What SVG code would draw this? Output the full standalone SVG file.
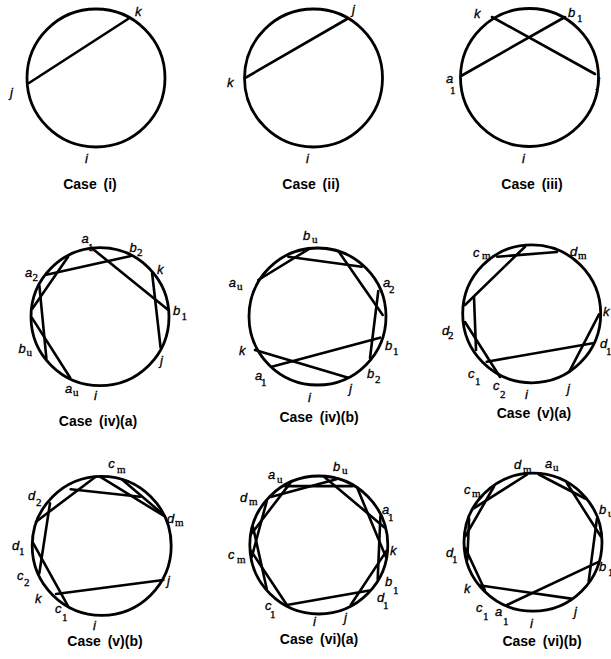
<svg xmlns="http://www.w3.org/2000/svg" width="611" height="659" viewBox="0 0 611 659">
<style>
.rim{fill:none;stroke:#000;stroke-width:2.8}
.ch line{stroke:#000;stroke-width:2.6;stroke-linecap:round}
.lb{font-family:"Liberation Sans",Arial,sans-serif;font-style:italic;font-size:13px;fill:#000;stroke:#000;stroke-width:0.3}
.sb{font-family:"Liberation Serif","Times New Roman",serif;font-style:normal;font-size:11px}
.cap{font-family:"Liberation Sans",Arial,sans-serif;font-weight:bold;font-size:14px;text-anchor:middle;word-spacing:3px;fill:#000}
</style>
<rect width="611" height="659" fill="#fff"/>

<g id="case-i">
<circle class="rim" cx="96" cy="78" r="69"/>
<g class="ch"><line x1="29" y1="83" x2="128" y2="19"/></g>
<text class="lb" x="135" y="16">k</text>
<text class="lb" x="10" y="97">j</text>
<text class="lb" x="85" y="163">i</text>
<text class="cap" x="90" y="189">Case (i)</text>
</g>

<g id="case-ii">
<circle class="rim" cx="313.5" cy="78" r="69"/>
<g class="ch"><line x1="245" y1="78" x2="347" y2="19"/></g>
<text class="lb" x="352" y="14">j</text>
<text class="lb" x="227" y="87">k</text>
<text class="lb" x="306" y="163">i</text>
<text class="cap" x="311" y="189">Case (ii)</text>
</g>

<g id="case-iii">
<circle class="rim" cx="529.5" cy="77.5" r="69"/>
<g class="ch"><line x1="492" y1="17" x2="595" y2="74"/><line x1="461" y1="76" x2="565" y2="17"/></g>
<text class="lb" x="474" y="18">k</text>
<text class="lb" x="568" y="17">b<tspan class="sb" x="577" y="22">1</tspan></text>
<text class="lb" x="446" y="83">a<tspan class="sb" x="450" y="94">1</tspan></text>
<text class="lb" x="597" y="87">j</text>
<text class="lb" x="522" y="163">i</text>
<text class="cap" x="532" y="189">Case (iii)</text>
</g>

<g id="case-iv-a">
<circle class="rim" cx="100" cy="316.7" r="69"/>
<g class="ch">
<line x1="92.9" y1="249" x2="167.7" y2="309.6"/>
<line x1="46.4" y1="274.8" x2="130.9" y2="256.1"/>
<line x1="152.1" y1="273" x2="160.6" y2="347.6"/>
<line x1="68.1" y1="256.7" x2="32.5" y2="308.4"/>
<line x1="39.4" y1="285.8" x2="46.4" y2="358.6"/>
<line x1="32" y1="317.9" x2="70.2" y2="377.8"/>
</g>
<text class="lb" x="81.5" y="243">a<tspan class="sb" x="88" y="251">1</tspan></text>
<text class="lb" x="129.5" y="252">b<tspan class="sb" x="137" y="256">2</tspan></text>
<text class="lb" x="157" y="274">k</text>
<text class="lb" x="173" y="315">b<tspan class="sb" x="181.5" y="320">1</tspan></text>
<text class="lb" x="160" y="365">j</text>
<text class="lb" x="18.5" y="353">b<tspan class="sb" x="26.5" y="356">u</tspan></text>
<text class="lb" x="65" y="393">a<tspan class="sb" x="73" y="396">u</tspan></text>
<text class="lb" x="94" y="400">i</text>
<text class="lb" x="25" y="277">a<tspan class="sb" x="32.5" y="281">2</tspan></text>
<text class="cap" x="98" y="426">Case (iv)(a)</text>
</g>

<g id="case-iv-b">
<circle class="rim" cx="317.5" cy="316.5" r="68.5"/>
<g class="ch">
<line x1="255" y1="350" x2="348.3" y2="377.7"/>
<line x1="271.7" y1="366.7" x2="380" y2="337.7"/>
<line x1="378.3" y1="291" x2="370" y2="358"/>
<line x1="338.3" y1="251" x2="382.7" y2="315"/>
<line x1="288.3" y1="256.7" x2="361.7" y2="266.7"/>
<line x1="258.3" y1="280" x2="310" y2="248.3"/>
</g>
<text class="lb" x="303" y="240">b<tspan class="sb" x="312" y="243">u</tspan></text>
<text class="lb" x="228.7" y="286.7">a<tspan class="sb" x="237" y="290">u</tspan></text>
<text class="lb" x="383" y="287">a<tspan class="sb" x="389" y="293">2</tspan></text>
<text class="lb" x="385" y="349.5">b<tspan class="sb" x="393" y="355">1</tspan></text>
<text class="lb" x="367" y="378">b<tspan class="sb" x="375" y="383">2</tspan></text>
<text class="lb" x="239" y="355">k</text>
<text class="lb" x="255" y="380">a<tspan class="sb" x="261" y="386">1</tspan></text>
<text class="lb" x="308" y="401.7">i</text>
<text class="lb" x="349" y="393">j</text>
<text class="cap" x="319" y="422">Case (iv)(b)</text>
</g>

<g id="case-v-a">
<circle class="rim" cx="531.7" cy="313.8" r="69"/>
<g class="ch">
<line x1="497.3" y1="256.7" x2="557" y2="252"/>
<line x1="525" y1="246.7" x2="465" y2="305"/>
<line x1="474" y1="297" x2="476" y2="350"/>
<line x1="465" y1="322" x2="500" y2="377"/>
<line x1="486.7" y1="361.7" x2="592.7" y2="343.3"/>
<line x1="599" y1="314.3" x2="569.3" y2="371.7"/>
</g>
<text class="lb" x="473" y="256.7">c<tspan class="sb" x="482" y="259">m</tspan></text>
<text class="lb" x="570" y="256">d<tspan class="sb" x="578" y="259">m</tspan></text>
<text class="lb" x="603" y="316">k</text>
<text class="lb" x="442" y="335">d<tspan class="sb" x="448" y="339">2</tspan></text>
<text class="lb" x="600" y="348">d<tspan class="sb" x="606" y="355">1</tspan></text>
<text class="lb" x="468" y="378">c<tspan class="sb" x="475" y="385">1</tspan></text>
<text class="lb" x="493" y="390">c<tspan class="sb" x="500" y="398">2</tspan></text>
<text class="lb" x="525" y="399">i</text>
<text class="lb" x="567" y="393">j</text>
<text class="cap" x="534" y="418">Case (v)(a)</text>
</g>

<g id="case-v-b">
<circle class="rim" cx="101.7" cy="545.8" r="69.5"/>
<g class="ch">
<line x1="163.3" y1="580" x2="56" y2="594"/>
<line x1="68.3" y1="606.7" x2="33.3" y2="543.3"/>
<line x1="39.3" y1="573.3" x2="50" y2="503.3"/>
<line x1="36" y1="521.7" x2="95" y2="477.3"/>
<line x1="70.7" y1="489.3" x2="140" y2="496.7"/>
<line x1="100" y1="476.7" x2="164" y2="516"/>
<line x1="121.7" y1="479.3" x2="162.7" y2="514"/>
</g>
<text class="lb" x="108.3" y="468">c<tspan class="sb" x="117" y="473">m</tspan></text>
<text class="lb" x="28" y="500">d<tspan class="sb" x="36" y="506">2</tspan></text>
<text class="lb" x="167" y="523">d<tspan class="sb" x="175" y="526">m</tspan></text>
<text class="lb" x="12" y="550">d<tspan class="sb" x="19" y="555">1</tspan></text>
<text class="lb" x="17" y="580">c<tspan class="sb" x="24" y="586">2</tspan></text>
<text class="lb" x="35" y="603">k</text>
<text class="lb" x="55" y="613">c<tspan class="sb" x="62" y="621">1</tspan></text>
<text class="lb" x="93" y="630">i</text>
<text class="lb" x="167" y="585">j</text>
<text class="cap" x="105" y="646">Case (v)(b)</text>
</g>

<g id="case-vi-a">
<circle class="rim" cx="318.8" cy="545" r="69"/>
<g class="ch">
<line x1="286.9" y1="605" x2="369.3" y2="590.5"/>
<line x1="350.7" y1="605" x2="386.5" y2="550.9"/>
<line x1="377.7" y1="579" x2="380.4" y2="516.2"/>
<line x1="385.8" y1="556.8" x2="357.8" y2="489.3"/>
<line x1="384.5" y1="527.4" x2="324.7" y2="477.3"/>
<line x1="352.8" y1="486.1" x2="284.8" y2="486.1"/>
<line x1="336.4" y1="479.3" x2="270.7" y2="496.9"/>
<line x1="290" y1="483.4" x2="251.8" y2="533.2"/>
<line x1="266.7" y1="501.3" x2="251.8" y2="556.8"/>
<line x1="253.1" y1="527.4" x2="266.7" y2="588.7"/>
<line x1="251.1" y1="550.9" x2="286.9" y2="605"/>
</g>
<text class="lb" x="268" y="479">a<tspan class="sb" x="277" y="483">u</tspan></text>
<text class="lb" x="333" y="471">b<tspan class="sb" x="342" y="474">u</tspan></text>
<text class="lb" x="240" y="502">d<tspan class="sb" x="249" y="505">m</tspan></text>
<text class="lb" x="382" y="514">a<tspan class="sb" x="388" y="521">1</tspan></text>
<text class="lb" x="228" y="559">c<tspan class="sb" x="237" y="563">m</tspan></text>
<text class="lb" x="390" y="555">k</text>
<text class="lb" x="385" y="586">b<tspan class="sb" x="393" y="594">1</tspan></text>
<text class="lb" x="377" y="602">d<tspan class="sb" x="383" y="609">1</tspan></text>
<text class="lb" x="265" y="610">c<tspan class="sb" x="270" y="618">1</tspan></text>
<text class="lb" x="313" y="626">i</text>
<text class="lb" x="344" y="622">j</text>
<text class="cap" x="319" y="644">Case (vi)(a)</text>
</g>

<g id="case-vi-b">
<circle class="rim" cx="533" cy="542.2" r="69"/>
<g class="ch">
<line x1="480.5" y1="585.5" x2="571" y2="598.6"/>
<line x1="507" y1="605" x2="598" y2="562.1"/>
<line x1="527.1" y1="474.5" x2="474.1" y2="508.2"/>
<line x1="494" y1="486.5" x2="465.3" y2="536.3"/>
<line x1="469.1" y1="519" x2="467.3" y2="559.8"/>
<line x1="465.3" y1="548.1" x2="484.9" y2="590.3"/>
<line x1="538.9" y1="474.5" x2="585.1" y2="498.5"/>
<line x1="567" y1="483.3" x2="600.7" y2="536.3"/>
<line x1="596.9" y1="519" x2="588.7" y2="581.2"/>
</g>
<text class="lb" x="514" y="469">d<tspan class="sb" x="523" y="473">m</tspan></text>
<text class="lb" x="545" y="468">a<tspan class="sb" x="553" y="471">u</tspan></text>
<text class="lb" x="464" y="494">c<tspan class="sb" x="472" y="497">m</tspan></text>
<text class="lb" x="599" y="514">b<tspan class="sb" x="608" y="517">u</tspan></text>
<text class="lb" x="446" y="557">d<tspan class="sb" x="452" y="563">1</tspan></text>
<text class="lb" x="599" y="571">b<tspan class="sb" x="608" y="576">1</tspan></text>
<text class="lb" x="464" y="593">k</text>
<text class="lb" x="476" y="612">c<tspan class="sb" x="483" y="620">1</tspan></text>
<text class="lb" x="495" y="616">a<tspan class="sb" x="503" y="625">1</tspan></text>
<text class="lb" x="530" y="628">i</text>
<text class="lb" x="574" y="616">j</text>
<text class="cap" x="542" y="646">Case (vi)(b)</text>
</g>
</svg>
